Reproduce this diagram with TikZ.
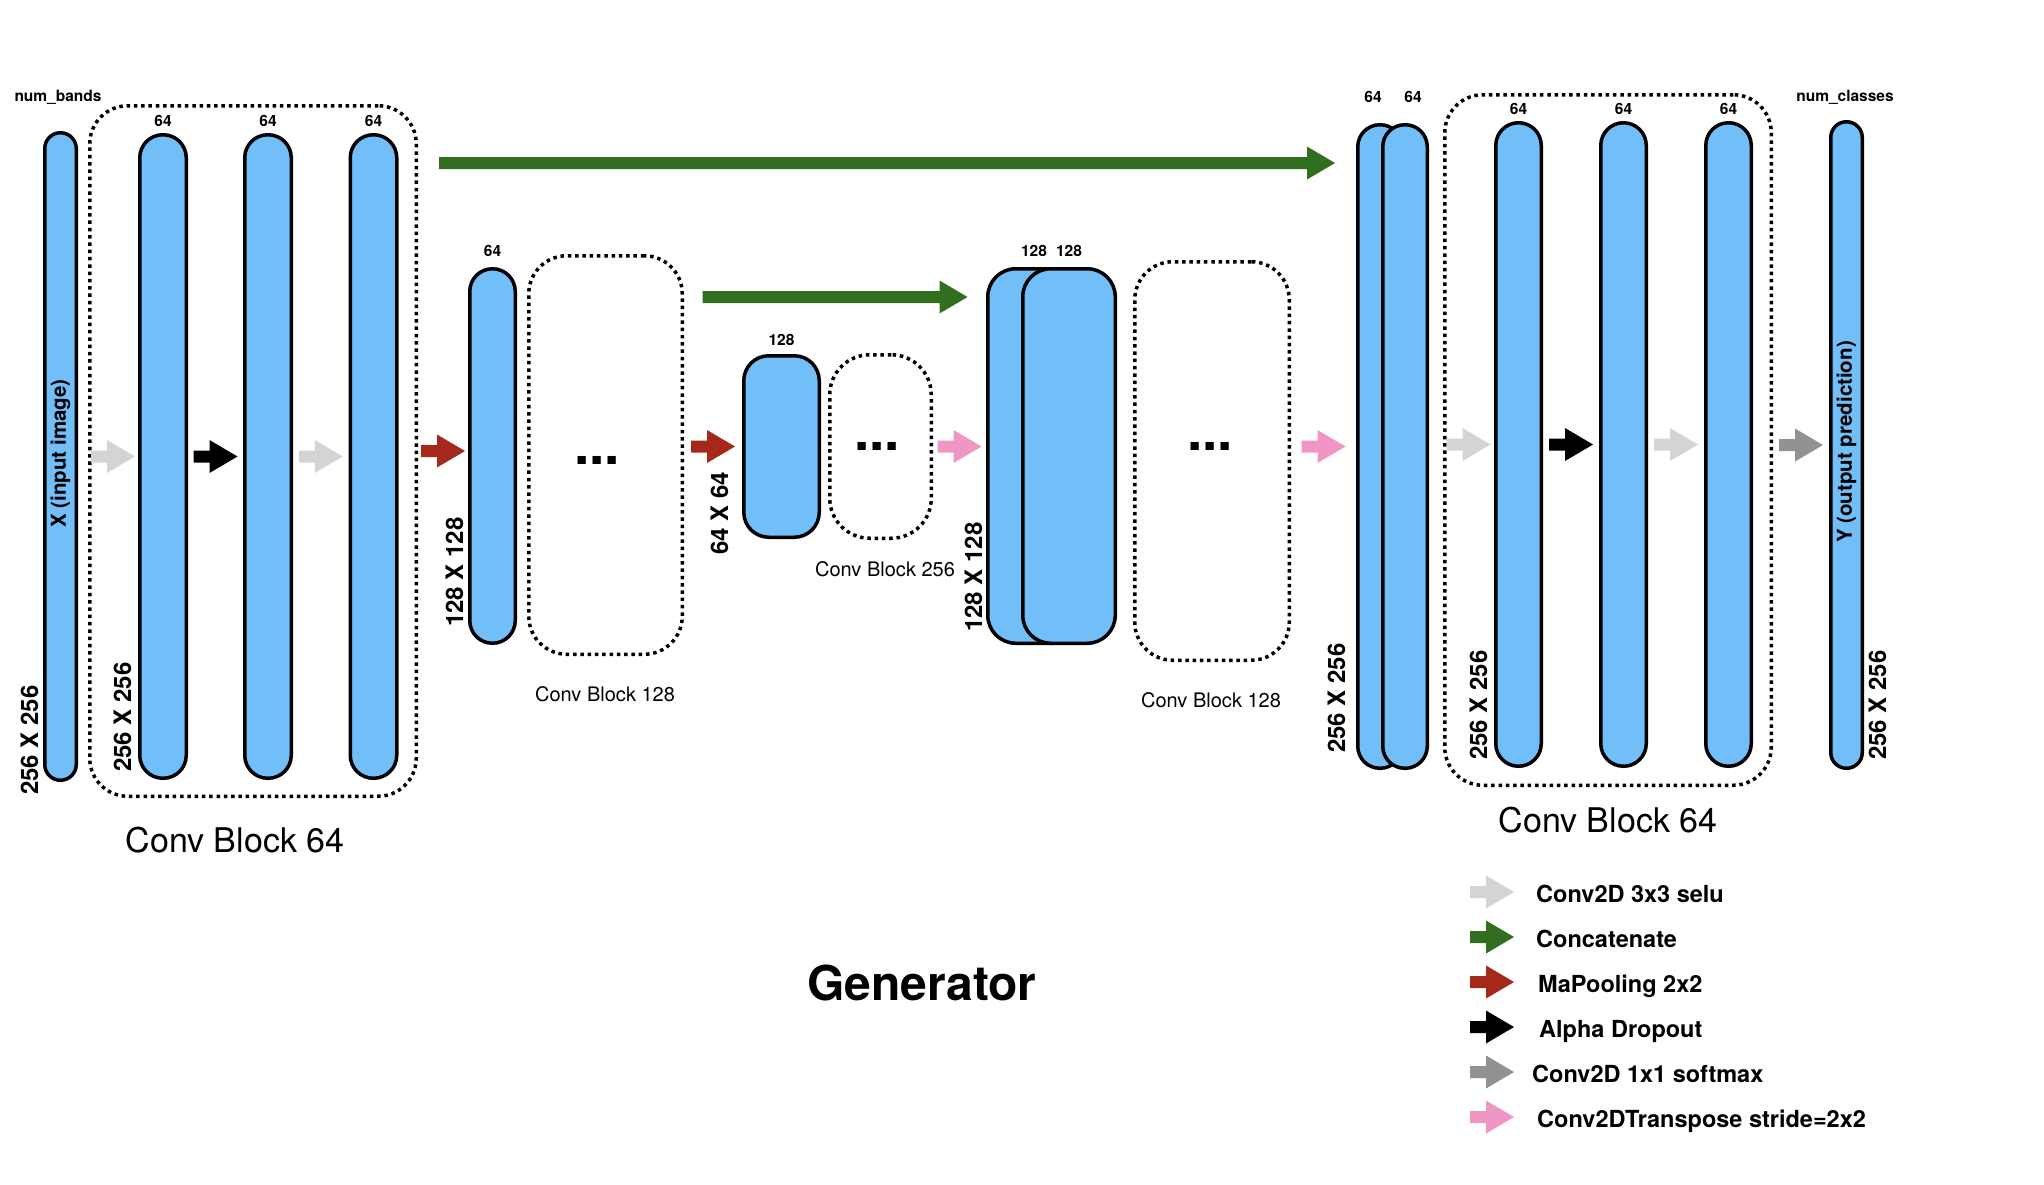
\documentclass[tikz,border=0pt]{standalone}
\usepackage{fontspec}
\setmainfont{TeX Gyre Heros}
\usetikzlibrary{calc,positioning}
\definecolor{FmapBlue}{RGB}{113,190,249}
\definecolor{ConvGray}{RGB}{212,212,212}
\definecolor{SoftGray}{RGB}{146,146,146}
\definecolor{PoolRed}{RGB}{165,41,27}
\definecolor{CatGreen}{RGB}{49,110,32}
\definecolor{UpPink}{RGB}{240,150,196}

\tikzset{
	fmap/.style={draw, fill=FmapBlue, line width=3.5pt, inner sep=0pt},
	convblock/.style={draw, line width=3.5pt, dash pattern=on 3.5pt off 3.8pt, rounded corners=38pt, inner sep=0pt},
	chan/.style={font=\fontsize{15.5}{18}\selectfont\bfseries, inner sep=0pt},
	dimlbl/.style={font=\fontsize{24}{28}\selectfont\bfseries, rotate=90, anchor=base west, inner sep=0pt},
	inlbl/.style={font=\fontsize{20.5}{24}\selectfont\bfseries, rotate=90, inner sep=0pt},
	dotslbl/.style={font=\fontsize{55}{60}\selectfont\bfseries, anchor=base, inner sep=0pt},
	biglbl/.style={font=\fontsize{34}{40}\selectfont, anchor=base, inner sep=0pt},
	smalllbl/.style={font=\fontsize{20}{24}\selectfont, anchor=base, inner sep=0pt},
	legendlbl/.style={font=\fontsize{23.5}{28}\selectfont\bfseries, anchor=base west, inner sep=0pt},
	titlelbl/.style={font=\fontsize{48}{56}\selectfont\bfseries, anchor=base, inner sep=0pt}
}

% block arrow of given length, centred between two points
\newcommand{\flowarrow}[4][44]{%
	\path #3 -- #4 coordinate[pos=0.5] (fa);
	\fill[fill=#2] ($(fa)+(-#1/2,-6)$) -- ($(fa)+(#1/2-28,-6)$) -- ($(fa)+(#1/2-28,-16.5)$)
		-- ($(fa)+(#1/2,0)$) -- ($(fa)+(#1/2-28,16.5)$) -- ($(fa)+(#1/2-28,6)$)
		-- ($(fa)+(-#1/2,6)$) -- cycle;}

\begin{document}
\begin{tikzpicture}[x=1pt, y=-1pt]
	\useasboundingbox (0,0) rectangle (2044,1184);
	% encoder
	\node[fmap, minimum width=31.5pt, minimum height=647.5pt, rounded corners=15.7pt] (inp) at (60.5,456.5) {};
	\node[convblock, minimum width=326.5pt, minimum height=690.5pt] (blk1) at (253,451) {};
	\node[fmap, minimum width=46.5pt, minimum height=643.5pt, rounded corners=23pt] (b1) at (163,456.5) {};
	\node[fmap, minimum width=46.5pt, minimum height=643.5pt, rounded corners=23pt] (b2) at (268,456.5) {};
	\node[fmap, minimum width=46.5pt, minimum height=643.5pt, rounded corners=23pt] (b3) at (373.5,456.5) {};
	\node[fmap, minimum width=45.5pt, minimum height=374.5pt, rounded corners=22.7pt] (b128) at (492.5,456) {};
	\node[convblock, minimum width=153.5pt, minimum height=398.5pt] (blk128) at (605.5,455) {};
	\node[fmap, minimum width=75.5pt, minimum height=181.5pt, rounded corners=25pt] (b256) at (781.5,446.5) {};
	\node[convblock, minimum width=101.5pt, minimum height=183.5pt, rounded corners=40pt] (blk256) at (880.5,446.5) {};
	% decoder
	\node[fmap, minimum width=92.5pt, minimum height=374.5pt, rounded corners=28pt] (d128a) at (1034,456) {};
	\node[fmap, minimum width=92.5pt, minimum height=374.5pt, rounded corners=28pt] (d128b) at (1069,456) {};
	\node[convblock, minimum width=154.5pt, minimum height=398.5pt] (blk128r) at (1212,461) {};
	\node[fmap, minimum width=44.5pt, minimum height=643.5pt, rounded corners=22pt] (d64a) at (1380,446.5) {};
	\node[fmap, minimum width=44.5pt, minimum height=643.5pt, rounded corners=22pt] (d64b) at (1405,446.5) {};
	\node[convblock, minimum width=326.5pt, minimum height=690.5pt] (blkr) at (1608,440) {};
	\node[fmap, minimum width=45.5pt, minimum height=643.5pt, rounded corners=22.7pt] (c1) at (1518.5,444.5) {};
	\node[fmap, minimum width=45.5pt, minimum height=643.5pt, rounded corners=22.7pt] (c2) at (1623.5,444.5) {};
	\node[fmap, minimum width=45.5pt, minimum height=643.5pt, rounded corners=22.7pt] (c3) at (1728.5,444.5) {};
	\node[fmap, minimum width=31.5pt, minimum height=646.5pt, rounded corners=15.7pt] (out) at (1846.5,445) {};

	\node[inlbl] (xlbl) at ($(inp)+(0,-3)$) {X (input image)};
	\node[inlbl] (ylbl) at ($(out)+(0,-3)$) {Y (output prediction)};

	\node[chan, anchor=base] (nbands) at (58,101) {num\_bands};
	\node[chan, anchor=base] (nclasses) at (1845,101) {num\_classes};
	\node[chan, above=6pt of b1] (lb1) {64};
	\node[chan, above=6pt of b2] (lb2) {64};
	\node[chan, above=6pt of b3] (lb3) {64};
	\node[chan, above=10pt of b128] (lb128) {64};
	\node[chan, above=8pt of b256] (lb256) {128};
	\node[chan, above=10pt of d128a] (ld128a) {128};
	\node[chan, above=10pt of d128b] (ld128b) {128};
	\node[chan, above=20pt of d64a, xshift=-7pt] (ld64a) {64};
	\node[chan, above=20pt of d64b, xshift=8pt] (ld64b) {64};
	\node[chan, above=6pt of c1] (lc1) {64};
	\node[chan, above=6pt of c2] (lc2) {64};
	\node[chan, above=6pt of c3] (lc3) {64};

	\node[dimlbl] (sinp) at (38,795) {256 X 256};
	\node[dimlbl] (sb1) at (131,772) {256 X 256};
	\node[dimlbl] (sb128) at (463,627) {128 X 128};
	\node[dimlbl] (sb256) at (728,555) {64 X 64};
	\node[dimlbl] (sd128) at (982,632) {128 X 128};
	\node[dimlbl] (sd64) at (1345,753) {256 X 256};
	\node[dimlbl] (sc1) at (1487,760) {256 X 256};
	\node[dimlbl] (sout) at (1886,760) {256 X 256};

	\node[dotslbl] (dots1) at (597,464) {...};
	\node[dotslbl] (dots2) at (877,450) {...};
	\node[dotslbl] (dots3) at (1210,450) {...};

	\node[biglbl] (cbl1) at (235,852) {Conv Block 64};
	\node[smalllbl] (cbl128) at (605,701) {Conv Block 128};
	\node[smalllbl] (cbl256) at (885,576) {Conv Block 256};
	\node[smalllbl] (cbl128r) at (1211,707) {Conv Block 128};
	\node[biglbl] (cblr) at (1608,832) {Conv Block 64};
	\node[titlelbl] (title) at (922,1000) {Generator};

	\flowarrow{ConvGray}{(blk1.west |- b1)}{(b1.west)}
	\flowarrow{black}{(b1.east)}{(b2.west)}
	\flowarrow{ConvGray}{(b2.east)}{(b3.west)}
	\flowarrow{PoolRed}{(blk1.east)}{(b128.west |- blk1.east)}
	\flowarrow{PoolRed}{(blk128.east |- b256)}{(b256.west)}
	\flowarrow{UpPink}{(blk256.east)}{(d128a.west |- blk256.east)}
	\flowarrow{UpPink}{(blk128r.east |- d64a)}{(d64a.west)}
	\flowarrow{ConvGray}{(blkr.west |- c1)}{(c1.west)}
	\flowarrow{black}{(c1.east)}{(c2.west)}
	\flowarrow{ConvGray}{(c2.east)}{(c3.west)}
	\flowarrow{SoftGray}{(blkr.east |- out)}{(out.west)}

	% skip connections
	\coordinate (skip1) at (0,163);
	\coordinate (skip2) at (0,297);
	\flowarrow[896]{CatGreen}{(blk1.east |- skip1)}{(d64a.west |- skip1)}
	\flowarrow[265]{CatGreen}{(blk128.east |- skip2)}{(d128a.west |- skip2)}

	% legend
	\foreach \col/\txt/\dx [count=\i from 0] in {ConvGray/Conv2D 3x3 selu/0, CatGreen/Concatenate/0, PoolRed/MaPooling 2x2/2, black/Alpha Dropout/3, SoftGray/Conv2D 1x1 softmax/-4, UpPink/Conv2DTranspose stride=2x2/1} {
		\flowarrow{\col}{(1470,892+45*\i)}{(1514,892+45*\i)}
		\node[legendlbl] (lg\i) at (1536+\dx,902+45*\i) {\txt};
	}
\end{tikzpicture}
\end{document}
